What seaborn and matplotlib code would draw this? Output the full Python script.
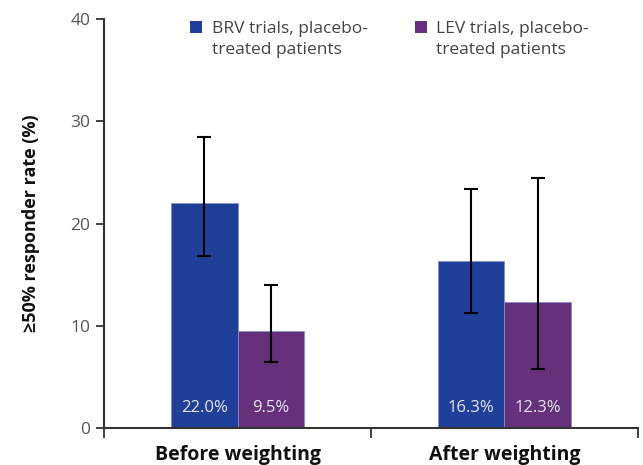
import numpy as np
import pandas as pd
import matplotlib
matplotlib.use("Agg")
import matplotlib.pyplot as plt
import seaborn as sb

# chart data
conditions = ["Before weighting", "After weighting"]
groups = ["BRV trials, placebo-\ntreated patients", "LEV trials, placebo-\ntreated patients"]
brv_rate = [22.0, 16.3]
lev_rate = [9.5, 12.3]
brv_low = [16.8, 11.2]
brv_high = [28.5, 23.4]
lev_low = [6.5, 5.8]
lev_high = [14.0, 24.45]

colors = ["#1f3f99", "#66307a"]

df = pd.DataFrame({
    "condition": conditions * 2,
    "group": [groups[0]] * 2 + [groups[1]] * 2,
    "rate": brv_rate + lev_rate,
    "low": brv_low + lev_low,
    "high": brv_high + lev_high,
})

sb.set_style("white")
plt.rcParams["font.family"] = ["Open Sans", "DejaVu Sans"]

fig = plt.figure(figsize=(6.43, 4.65), dpi=100)
ax = fig.add_axes([0.162, 0.0796, 0.830, 0.8795])

sb.barplot(data=df, x="condition", y="rate", hue="group", order=conditions,
           hue_order=groups, palette=colors, saturation=1, width=0.5,
           errorbar=None, edgecolor="#7f8fcc", linewidth=0.6, ax=ax)

# error bars and value labels, placed on the drawn bars
bars = [p for p in ax.patches if p.get_height() > 0]
for p in bars:
    cx = p.get_x() + p.get_width() / 2
    h = p.get_height()
    row = df[np.isclose(df["rate"], h)].iloc[0]
    ax.errorbar(cx, h, yerr=[[h - row["low"]], [row["high"] - h]],
                fmt="none", ecolor="black", elinewidth=1.5, capsize=5,
                capthick=1.5)
    ax.text(cx, 2.0, f"{h:.1f}%", ha="center", va="center",
            color="#e6e6f2", fontsize=12)

ax.set_ylim(0, 40)
ax.set_xlim(-0.5, 1.5)
ax.set_yticks([0, 10, 20, 30, 40])
ax.set_ylabel("\u226550% responder rate (%)", fontsize=13, fontweight="bold",
              color="#111111", labelpad=22)
ax.set_xlabel("")

ax.set_xticks([-0.5, 0.5, 1.5], minor=True)
ax.set_xticks([0, 1])
ax.set_xticklabels(conditions, fontsize=14, fontweight="bold", color="#111111")
ax.tick_params(axis="x", which="major", length=0, pad=12)
ax.tick_params(axis="x", which="minor", length=7, width=1.3, color="#333333",
               direction="out", bottom=True)
ax.tick_params(axis="y", length=6, width=1.3, color="#333333", direction="out",
               left=True, labelsize=12.5, labelcolor="#555555", pad=4)

sb.despine(ax=ax)
for s in ["left", "bottom"]:
    ax.spines[s].set_color("#333333")
    ax.spines[s].set_linewidth(1.5)

leg = ax.legend(loc="upper center", bbox_to_anchor=(0.535, 1.033), ncol=2,
                frameon=False, fontsize=12.5, handlelength=0.7,
                handleheight=0.7, columnspacing=2.7, handletextpad=0.55)
for t in leg.get_texts():
    t.set_color("#444444")
    t.set_linespacing(1.4)
for h in leg.legend_handles:
    h.set_edgecolor("none")
    # line the square up with the first text line
    h.set_y(h.get_y() + 9)

plt.savefig("out.png", dpi=100)
